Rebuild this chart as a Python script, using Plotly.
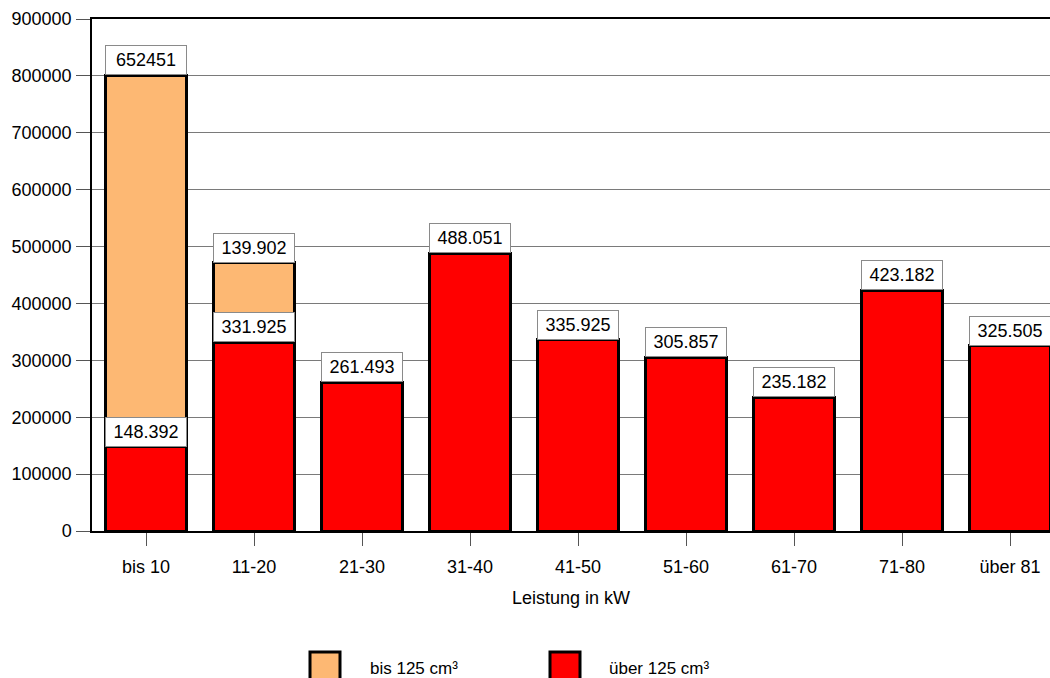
import plotly.graph_objects as go

# Data: registrations by engine power class, split by displacement
categories = ["bis 10", "11-20", "21-30", "31-40", "41-50", "51-60", "61-70", "71-80", "über 81"]
ueber_125 = [148392, 331925, 261493, 488051, 335925, 305857, 235182, 423182, 325505]
bis_125 = [652451, 139902, 0, 0, 0, 0, 0, 0, 0]
# thousands separator used in the value labels of the light series
bis_125_sep = ["", ".", ".", ".", ".", ".", ".", ".", "."]

series_names = ["bis 125 cm³", "über 125 cm³"]
colors = {"bis 125 cm³": "#FDB873", "über 125 cm³": "#FF0000"}
y_ticks = [0, 100000, 200000, 300000, 400000, 500000, 600000, 700000, 800000, 900000]

W, H = 1050, 678
M_L, M_R, M_T, M_B = 92, 0, 19, 147
PLOT_W = W - M_L - M_R
PLOT_H = H - M_T - M_B
FONT = "Liberation Sans, Arial, sans-serif"
FS = 18


def fmt(v, sep="."):
    return f"{v:,}".replace(",", sep)


def px_x(px):
    return (px - M_L) / PLOT_W


def px_y(py):
    return (H - M_B - py) / PLOT_H


fig = go.Figure()
fig.add_trace(go.Bar(
    x=categories, y=ueber_125, name=series_names[1],
    marker=dict(color=colors[series_names[1]], line=dict(color="black", width=3)),
    showlegend=False,
))
fig.add_trace(go.Bar(
    x=categories, y=bis_125, name=series_names[0],
    marker=dict(color=colors[series_names[0]], line=dict(color="black", width=3)),
    showlegend=False,
))

# value labels in boxes sitting on top of each segment
annotations = []
label_box = dict(
    xref="x", yref="y", showarrow=False, yanchor="bottom", xanchor="center",
    bgcolor="white", bordercolor="#8a8a8a", borderwidth=1, borderpad=1,
    width=78, height=26, font=dict(family=FONT, size=FS, color="black"),
)
for i, cat in enumerate(categories):
    annotations.append(dict(label_box, x=cat, y=ueber_125[i], text=fmt(ueber_125[i])))
    if bis_125[i] > 0:
        top = ueber_125[i] + bis_125[i]
        annotations.append(dict(label_box, x=cat, y=top, text=fmt(bis_125[i], bis_125_sep[i])))

# legend below the axis
shapes = []
legend_items = [(series_names[0], 310, 368), (series_names[1], 550, 607)]
for name, box_left, text_left in legend_items:
    shapes.append(dict(
        type="rect", xref="paper", yref="paper",
        x0=px_x(box_left), x1=px_x(box_left + 30), y0=px_y(682), y1=px_y(652),
        fillcolor=colors[name], line=dict(color="black", width=3),
    ))
    annotations.append(dict(
        xref="paper", yref="paper", x=px_x(text_left), y=px_y(668),
        xanchor="left", yanchor="middle", showarrow=False, text=name,
        font=dict(family=FONT, size=17, color="black"),
    ))

fig.update_layout(
    barmode="stack",
    bargap=0.255,
    width=W, height=H,
    margin=dict(l=M_L, r=M_R, t=M_T, b=M_B),
    paper_bgcolor="white", plot_bgcolor="white",
    font=dict(family=FONT, size=FS, color="black"),
    annotations=annotations,
    shapes=shapes,
    xaxis=dict(
        range=[-0.5, -0.5 + PLOT_W / 108.0],
        showline=True, linecolor="black", linewidth=2, mirror=True,
        ticks="outside", ticklen=13, tickcolor="#555555", tickwidth=1,
        ticklabelstandoff=5,
        tickfont=dict(family=FONT, size=FS, color="black"),
        title=dict(text="Leistung in kW", font=dict(family=FONT, size=FS, color="black"), standoff=16),
        showgrid=False, zeroline=False,
    ),
    yaxis=dict(
        range=[0, 900000], tickvals=y_ticks, tickformat="d",
        showline=True, linecolor="black", linewidth=1.5,
        ticks="outside", ticklen=14, tickcolor="#555555", tickwidth=1,
        ticklabelstandoff=1,
        tickfont=dict(family=FONT, size=FS, color="black"),
        showgrid=True, gridcolor="#7a7a7a", gridwidth=1, zeroline=False,
    ),
)

fig.write_html("out.html")
